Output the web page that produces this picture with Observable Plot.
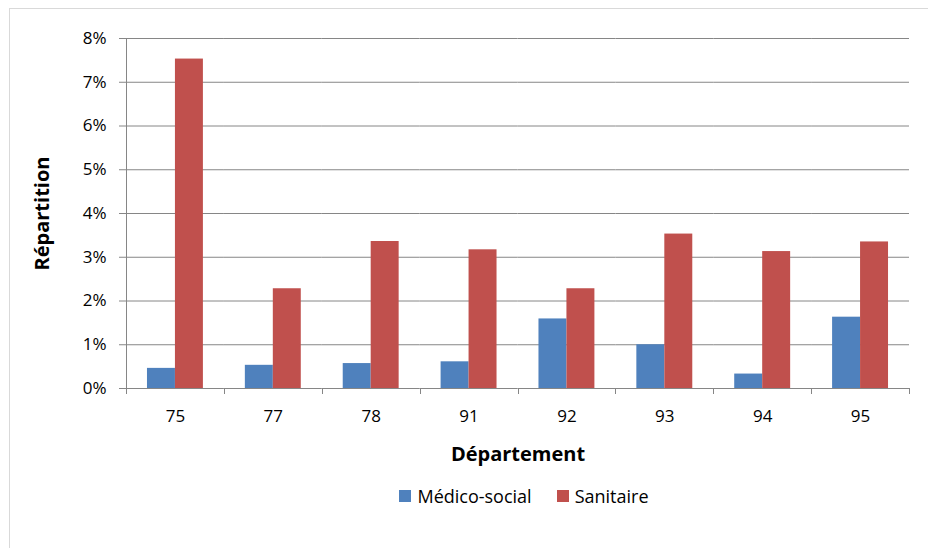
<!DOCTYPE html>
<html>
<head>
<meta charset="utf-8">
<script src="https://cdn.jsdelivr.net/npm/d3@7"></script>
<script src="https://cdn.jsdelivr.net/npm/@observablehq/plot@0.6"></script>
<style>
  html, body { margin: 0; padding: 0; background: #fff; }
  #wrap { position: relative; width: 928px; height: 548px; overflow: hidden; font-family: "Open Sans", sans-serif; }
  #border { position: absolute; left: 9px; top: 8px; width: 940px; height: 600px; border: 1px solid #d9d9d9; box-sizing: border-box; }
  #chart { position: absolute; left: 0; top: 0; }
  #legend { position: absolute; left: 0; top: 484px; width: 928px; display: flex; justify-content: center; gap: 25px; font-size: 18px; color: #000; padding-left: 120px; box-sizing: border-box; }
  .item { display: flex; align-items: center; gap: 6px; }
  .sw { width: 12px; height: 12px; display: inline-block; }
</style>
</head>
<body>
<div id="wrap">
  <div id="border"></div>
  <div id="chart"></div>
  <div id="legend"></div>
</div>
<script>
const departements = ["75", "77", "78", "91", "92", "93", "94", "95"];
const series = ["Médico-social", "Sanitaire"];
const medicoSocial = [0.46, 0.53, 0.57, 0.61, 1.59, 1.00, 0.33, 1.63];
const sanitaire = [7.53, 2.28, 3.36, 3.17, 2.28, 3.53, 3.13, 3.35];
const yTicks = [0, 1, 2, 3, 4, 5, 6, 7, 8];
const colors = ["#4F81BD", "#C0504D"];

const data = [];
departements.forEach((d, i) => {
  data.push({dep: d, serie: series[0], value: medicoSocial[i]});
  data.push({dep: d, serie: series[1], value: sanitaire[i]});
});

const W = 928, H = 470;
const plot = Plot.plot({
  width: W,
  height: H,
  marginLeft: 126,
  marginRight: 19,
  marginTop: 38,
  marginBottom: 82,
  style: {fontFamily: "'Open Sans', sans-serif", fontSize: "17px", color: "#000", background: "transparent"},
  fx: {domain: departements, padding: 0, round: false, label: null},
  x: {domain: series, paddingInner: 0, paddingOuter: 0.75, round: false, axis: null},
  y: {domain: [0, 8], label: null},
  color: {domain: series, range: colors},
  marks: [
    Plot.gridY(yTicks, {stroke: "#868686", strokeOpacity: 1, strokeWidth: 1}),
    Plot.barY(data, {fx: "dep", x: "serie", y: "value", fill: "serie"}),
    Plot.axisY(yTicks, {tickSize: 7, tickPadding: 13, tickFormat: d => d + "%", stroke: "#868686", label: "Répartition", labelAnchor: "center", labelOffset: 92, fontSize: 17}),
    Plot.axisFx({anchor: "bottom", tickSize: 0, tickPadding: 21, label: "Département", labelAnchor: "center", labelOffset: 72, fontSize: 17})
  ]
});
document.getElementById("chart").appendChild(plot);

const svg = d3.select(plot);
// axis titles: bold, larger, no arrow
svg.selectAll("g[aria-label='y-axis label'] text")
  .attr("font-weight", "bold").attr("font-size", 20).text("Répartition");
svg.selectAll("g[aria-label='fx-axis label'] text")
  .attr("font-weight", "bold").attr("font-size", 20).text("Département");

// y axis line and category boundary ticks from the scales
const fx = plot.scale("fx");
const y = plot.scale("y");
const y0 = y.apply(0), y8 = y.apply(8);
const xs = departements.map(d => fx.apply(d));
xs.push(fx.apply(departements[departements.length - 1]) + fx.bandwidth);
const g = svg.append("g").attr("stroke", "#868686").attr("stroke-width", 1);
g.append("line").attr("x1", Math.round(xs[0]) + 0.5).attr("x2", Math.round(xs[0]) + 0.5).attr("y1", y8).attr("y2", y0 + 6);
xs.forEach(x => {
  g.append("line").attr("x1", Math.round(x) + 0.5).attr("x2", Math.round(x) + 0.5).attr("y1", y0).attr("y2", y0 + 6);
});

// legend
const legend = d3.select("#legend");
series.forEach((s, i) => {
  const it = legend.append("div").attr("class", "item");
  it.append("span").attr("class", "sw").style("background", colors[i]);
  it.append("span").text(s);
});
</script>
</body>
</html>
